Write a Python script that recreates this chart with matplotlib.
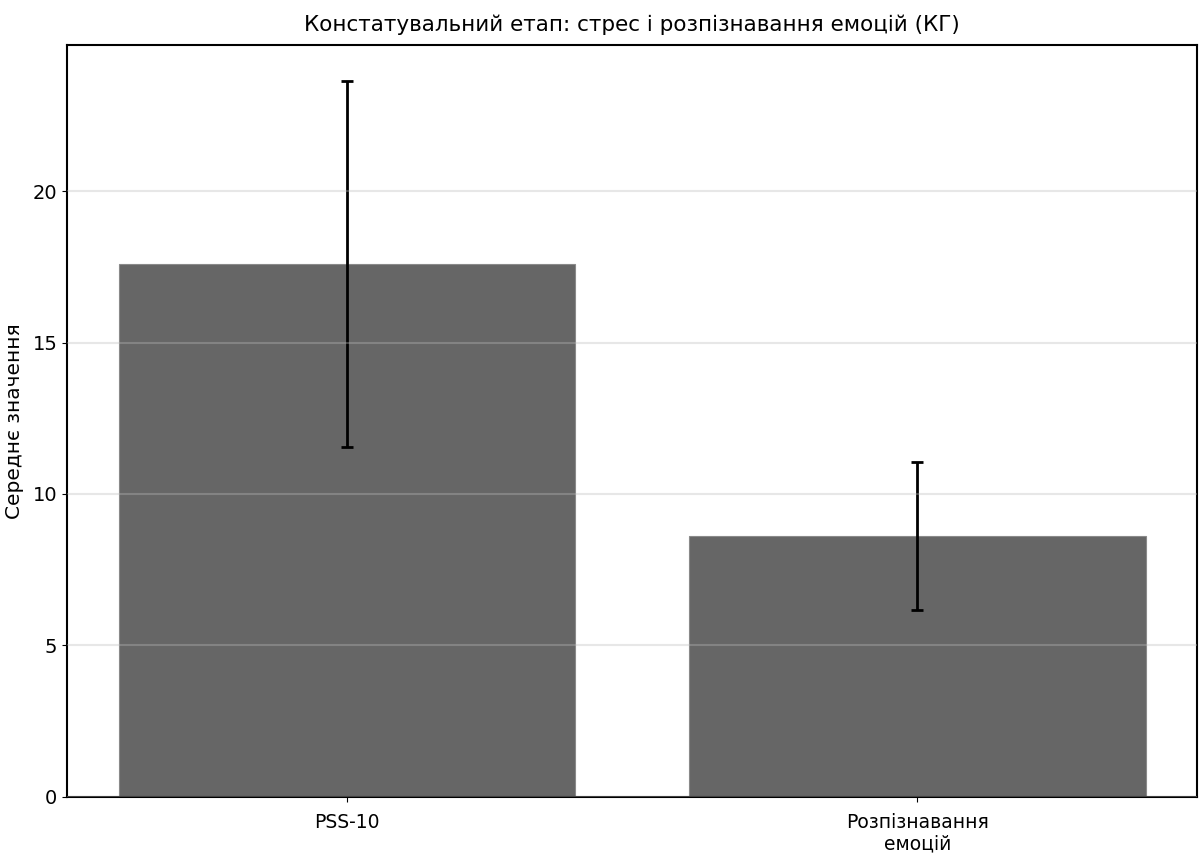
import matplotlib
import matplotlib.pyplot as plt

matplotlib.use('Agg')

categories = ['PSS-10', 'Розпізнавання\nемоцій']
means = [17.6, 8.6]
sds = [6.05, 2.45]

plt.rcParams['font.family'] = ['DejaVu Sans']

fig, ax = plt.subplots(figsize=(12, 8.63), dpi=100)

x = range(len(categories))
ax.bar(x, means, width=0.8, color='#666666', edgecolor='#8a8a8a', linewidth=0.8,
       yerr=sds, capsize=4.5, error_kw={'elinewidth': 2, 'capthick': 2, 'ecolor': 'black'})

ax.set_xticks(list(x))
ax.set_xticklabels(categories, fontsize=13.5)
ax.tick_params(axis='y', labelsize=14)
ax.tick_params(axis='x', pad=8)
ax.set_ylabel('Середнє значення', fontsize=14.5, labelpad=6)
ax.set_title('Констатувальний етап: стрес і розпізнавання емоцій (КГ)', fontsize=15.5, pad=10)
ax.yaxis.grid(True, color='#bbbbbb', alpha=0.35, linewidth=1.5)
ax.set_axisbelow(False)
for s in ax.spines.values():
    s.set_linewidth(1.5)

plt.subplots_adjust(left=0.056, right=0.9975, top=0.948, bottom=0.077)
plt.savefig('out.png', dpi=100)
